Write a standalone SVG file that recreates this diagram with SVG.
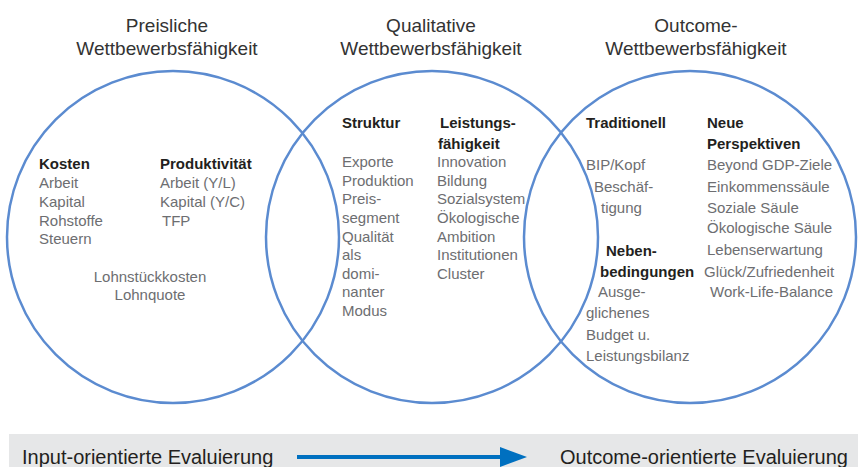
<svg xmlns="http://www.w3.org/2000/svg" width="858" height="467" viewBox="0 0 858 467">
<style>
.t{font-family:"Liberation Sans",Arial,sans-serif;font-size:19px;fill:#333;text-anchor:middle}
.n{font-family:"Liberation Sans",Arial,sans-serif;font-size:15px;fill:#6d6e71}
.b{font-family:"Liberation Sans",Arial,sans-serif;font-size:15px;font-weight:bold;fill:#231f20}
.c{fill:none;stroke:#5b8bd0;stroke-width:2.5}
.f{font-family:"Liberation Sans",Arial,sans-serif;font-size:20px;fill:#231f20}
</style>
<defs>
<marker id="ah" markerWidth="8" markerHeight="6" refX="1" refY="3" orient="auto" markerUnits="strokeWidth">
<path d="M0,0 L8,3 L0,6 Z" fill="#0070c0"/>
</marker>
</defs>
<rect width="858" height="467" fill="#fff"/>
<g id="preisliche">
<circle class="c" cx="173" cy="237" r="166"/>
<text class="t" x="167" y="32">Preisliche</text>
<text class="t" x="167" y="55">Wettbewerbsfähigkeit</text>
<text class="b" x="39" y="169">Kosten</text>
<text class="n" x="39" y="188">Arbeit</text>
<text class="n" x="39" y="207">Kapital</text>
<text class="n" x="39" y="226">Rohstoffe</text>
<text class="n" x="39" y="244">Steuern</text>
<text class="b" x="160" y="169">Produktivität</text>
<text class="n" x="160" y="188">Arbeit (Y/L)</text>
<text class="n" x="160" y="207">Kapital (Y/C)</text>
<text class="n" x="162" y="226">TFP</text>
<text class="n" x="150" y="282" text-anchor="middle">Lohnstückkosten</text>
<text class="n" x="150" y="300" text-anchor="middle">Lohnquote</text>
</g>
<g id="qualitative">
<circle class="c" cx="432" cy="237" r="166"/>
<text class="t" x="431" y="32">Qualitative</text>
<text class="t" x="431" y="55">Wettbewerbsfähigkeit</text>
<text class="b" x="342" y="128">Struktur</text>
<text class="n" x="342" y="167">Exporte</text>
<text class="n" x="342" y="186">Produktion</text>
<text class="n" x="342" y="204">Preis-</text>
<text class="n" x="342" y="223">segment</text>
<text class="n" x="342" y="242">Qualität</text>
<text class="n" x="342" y="260">als</text>
<text class="n" x="342" y="279">domi-</text>
<text class="n" x="342" y="297">nanter</text>
<text class="n" x="342" y="316">Modus</text>
<text class="b" x="440" y="128">Leistungs-</text>
<text class="b" x="438" y="149">fähigkeit</text>
<text class="n" x="437" y="167">Innovation</text>
<text class="n" x="437" y="186">Bildung</text>
<text class="n" x="437" y="204">Sozialsystem</text>
<text class="n" x="437" y="223">Ökologische</text>
<text class="n" x="437" y="242">Ambition</text>
<text class="n" x="437" y="260">Institutionen</text>
<text class="n" x="437" y="279">Cluster</text>
</g>
<g id="outcome">
<circle class="c" cx="690" cy="237" r="166"/>
<text class="t" x="696" y="32">Outcome-</text>
<text class="t" x="696" y="55">Wettbewerbsfähigkeit</text>
<text class="b" x="586" y="128">Traditionell</text>
<text class="n" x="586" y="170">BIP/Kopf</text>
<text class="n" x="594" y="192">Beschäf-</text>
<text class="n" x="601" y="213">tigung</text>
<text class="b" x="606" y="256">Neben-</text>
<text class="b" x="600" y="277">bedingungen</text>
<text class="n" x="598" y="297">Ausge-</text>
<text class="n" x="586" y="318">glichenes</text>
<text class="n" x="586" y="340">Budget u.</text>
<text class="n" x="586" y="361">Leistungsbilanz</text>
<text class="b" x="707" y="128">Neue</text>
<text class="b" x="707" y="149">Perspektiven</text>
<text class="n" x="707" y="170">Beyond GDP-Ziele</text>
<text class="n" x="707" y="192">Einkommenssäule</text>
<text class="n" x="707" y="213">Soziale Säule</text>
<text class="n" x="707" y="233">Ökologische Säule</text>
<text class="n" x="707" y="255">Lebenserwartung</text>
<text class="n" x="704" y="277">Glück/Zufriedenheit</text>
<text class="n" x="710" y="297">Work-Life-Balance</text>
</g>
<g id="footer">
<rect x="9" y="434" width="849" height="33" fill="#e6e7e8"/>
<text class="f" x="22" y="464">Input-orientierte Evaluierung</text>
<text class="f" x="560" y="464">Outcome-orientierte Evaluierung</text>
</g>
<g id="connectors">
<line x1="297" y1="457" x2="503" y2="457" stroke="#0070c0" stroke-width="4"/>
<path d="M500,447 L527,457 L500,467 Z" fill="#0070c0"/>
</g>
</svg>
